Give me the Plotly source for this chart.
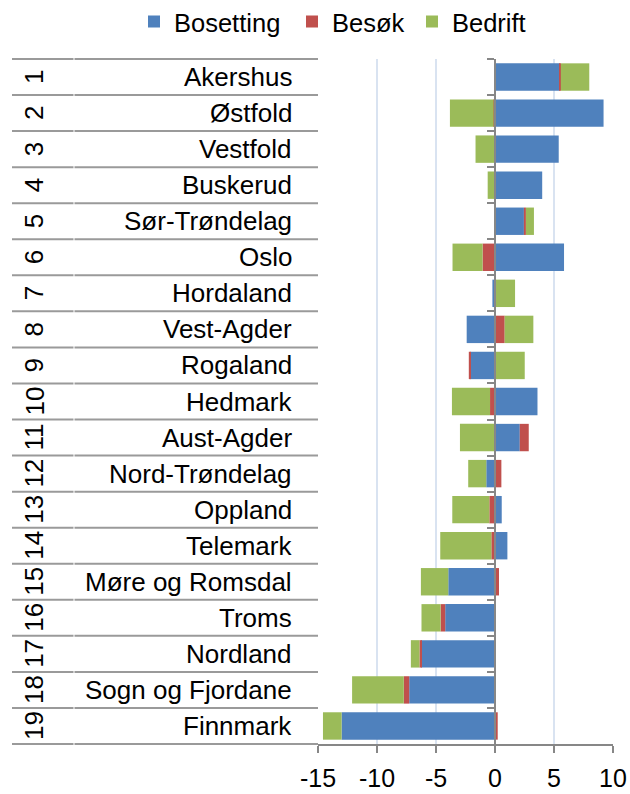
import plotly.graph_objects as go

# Counties, ranked from top to bottom
regions = ["Akershus", "Østfold", "Vestfold", "Buskerud", "Sør-Trøndelag", "Oslo",
           "Hordaland", "Vest-Agder", "Rogaland", "Hedmark", "Aust-Agder",
           "Nord-Trøndelag", "Oppland", "Telemark", "Møre og Romsdal", "Troms",
           "Nordland", "Sogn og Fjordane", "Finnmark"]
ranks = [str(i) for i in range(1, 20)]

# Index components per county
bosetting = [5.5, 9.2, 5.4, 4.0, 2.45, 5.85, -0.22, -2.4, -2.1, 3.6, 2.1,
             -0.74, 0.57, 1.05, -3.96, -4.22, -6.26, -7.27, -13.0]
besok = [0.08, -0.12, -0.05, -0.05, 0.17, -1.05, 0.06, 0.82, -0.12, -0.42, 0.76,
         0.54, -0.48, -0.31, 0.34, -0.39, -0.14, -0.46, 0.23]
bedrift = [2.41, -3.7, -1.6, -0.57, 0.68, -2.55, 1.64, 2.43, 2.52, -3.23, -2.97,
           -1.53, -3.14, -4.33, -2.32, -1.62, -0.73, -4.38, -1.58]

x_ticks = [-15, -10, -5, 0, 5, 10]

series = [("Bosetting", bosetting, "#4F81BD"),
          ("Besøk", besok, "#C0504D"),
          ("Bedrift", bedrift, "#9BBB59")]

W, H = 630, 794
ML, MR, MT, MB = 318, 17, 59, 50
PW = W - ML - MR
PH = H - MT - MB

FONT = "Liberation Sans, Arial, sans-serif"
AXIS_GRAY = "#878787"
ROW_GRAY = "#9a9a9a"


def px_x(px):
    """Pixel column -> paper x."""
    return (px - ML) / PW


def px_y(py):
    """Pixel row -> paper y."""
    return 1 - (py - MT) / PH


# One legend box per series so each entry sits at its own spot in the header
legend_ids = ["legend", "legend2", "legend3"]
legend_left_px = [134, 292, 412]

fig = go.Figure()
for (name, vals, color), lid in zip(series, legend_ids):
    fig.add_trace(go.Bar(
        y=regions, x=vals, name=name, orientation="h", legend=lid,
        marker=dict(color=color, line=dict(width=0)),
    ))

# Two-level category table on the left: rank column and county column
shapes = []
n = len(regions)
for k in range(n + 1):
    yk = 1 - k / n
    shapes.append(dict(type="line", xref="paper", yref="paper",
                       x0=px_x(12), x1=px_x(73.5), y0=yk, y1=yk,
                       line=dict(color=ROW_GRAY, width=2)))
    shapes.append(dict(type="line", xref="paper", yref="paper",
                       x0=px_x(74.5), x1=0, y0=yk, y1=yk,
                       line=dict(color=ROW_GRAY, width=2)))

annotations = []
for region, rank in zip(regions, ranks):
    annotations.append(dict(
        text=region, xref="paper", yref="y", x=px_x(294), y=region,
        xanchor="right", yanchor="middle", showarrow=False,
        font=dict(family=FONT, size=26, color="#000000")))
    annotations.append(dict(
        text=rank, xref="paper", yref="y", x=px_x(34), y=region,
        xanchor="center", yanchor="middle", showarrow=False, textangle=-90,
        font=dict(family=FONT, size=26, color="#000000")))

legend_style = dict(orientation="h", y=px_y(22), xanchor="left", yanchor="middle",
                    font=dict(family=FONT, size=25.5, color="#000000"),
                    itemwidth=30, bgcolor="rgba(0,0,0,0)")

fig.update_layout(
    width=W, height=H,
    margin=dict(l=ML, r=MR, t=MT, b=MB, autoexpand=False),
    paper_bgcolor="white", plot_bgcolor="white",
    barmode="relative", bargap=0.24,
    font=dict(family=FONT, size=26, color="#000000"),
    shapes=shapes, annotations=annotations,
    showlegend=True,
    xaxis=dict(range=[-15, 10], tickvals=x_ticks, ticktext=[str(v) for v in x_ticks],
               showgrid=True, gridcolor="#D9E3F1", gridwidth=1.5,
               zeroline=False, showline=True, linecolor=AXIS_GRAY, linewidth=2,
               ticks="outside", ticklen=7, tickwidth=2, tickcolor=AXIS_GRAY,
               tickfont=dict(family=FONT, size=25, color="#000000"),
               ticklabelstandoff=4, fixedrange=True),
    yaxis=dict(type="category", categoryorder="array", categoryarray=regions,
               range=[n - 0.5, -0.5], anchor="free", position=px_x(495.3),
               showline=True, linecolor=AXIS_GRAY, linewidth=2,
               ticks="outside", ticklen=7, tickwidth=2, tickcolor=AXIS_GRAY,
               tickson="boundaries", showticklabels=False, showgrid=False,
               zeroline=False, fixedrange=True),
)
for lid, left in zip(legend_ids, legend_left_px):
    fig.update_layout({lid: dict(legend_style, x=px_x(left))})

fig.write_html("out.html")
